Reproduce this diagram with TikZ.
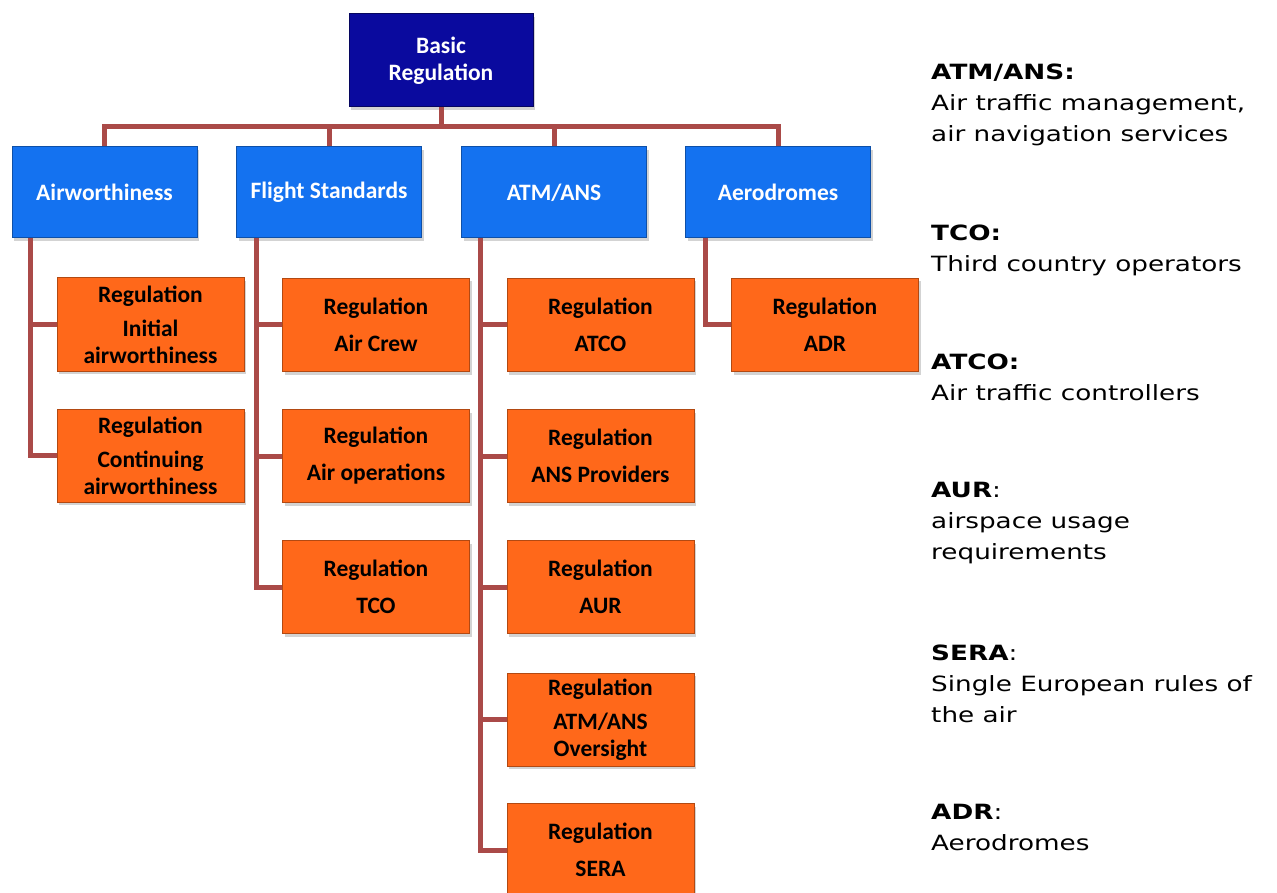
\documentclass[tikz,border=0pt]{standalone}
\usepackage{fontspec}
\setmainfont{Carlito}
\newfontfamily\legendfont[FakeStretch=1.25]{DejaVu Sans}
\usetikzlibrary{shadows}
\definecolor{topblue}{RGB}{10,10,158}
\definecolor{areablue}{RGB}{20,114,240}
\definecolor{regorange}{RGB}{255,104,26}
\definecolor{linkred}{RGB}{170,74,72}
\begin{document}
\begin{tikzpicture}[x=1pt,y=-1pt,
  box/.style={draw, line width=1pt, inner sep=0pt, align=center,
    font=\fontsize{23.5}{27}\selectfont\bfseries,
    drop shadow={opacity=0.35,shadow xshift=2pt,shadow yshift=-3pt}},
  topbox/.style={box, draw=topblue!60!black, fill=topblue, text=white,
    minimum width=184pt, minimum height=93pt},
  areabox/.style={box, draw=areablue!70!black, fill=areablue, text=white,
    minimum width=185pt, minimum height=91pt},
  regbox/.style={box, draw=regorange!70!black, fill=regorange, text=black,
    minimum width=187pt, minimum height=93pt},
  link/.style={draw=linkred, line width=5pt},
  legend/.style={anchor=north west, inner sep=0pt, align=left,
    font=\legendfont\fontsize{21}{31}\selectfont}]
\useasboundingbox (0,0) rectangle (1277,893);

% connectors first, boxes on top
\node[topbox] (basic) at (441,60.5) {Basic\\Regulation};

\node[areabox] (air) at (104.5,192.5) {Airworthiness};
\node[areabox] (fs) at (329,192.5) {Flight Standards};
\node[areabox] (atm) at (554,192.5) {ATM/ANS};
\node[areabox] (aero) at (778,192.5) {Aerodromes};

\path[link] (basic.south) -- ++(0,19) coordinate (bus) -| (air.north);
\path[link] (bus) -| (fs.north);
\path[link] (bus) -| (atm.north);
\path[link] (bus) -| (aero.north);

\node[regbox] (ini) at (150.5,324.5) {Regulation\\[7pt]Initial\\airworthiness};
\node[regbox] (cont) at (150.5,455.5) {Regulation\\[7pt]Continuing\\airworthiness};

\node[regbox] (crew) at (376,325) {Regulation\\[10pt]Air Crew};
\node[regbox] (ops) at (376,456) {Regulation\\[10pt]Air operations};
\node[regbox] (tco) at (376,587) {Regulation\\[10pt]TCO};

\node[regbox] (atco) at (600.5,325) {Regulation\\[10pt]ATCO};
\node[regbox] (ansp) at (600.5,456) {Regulation\\[10pt]ANS Providers};
\node[regbox] (aur) at (600.5,587) {Regulation\\[10pt]AUR};
\node[regbox] (ovs) at (600.5,719.5) {Regulation\\[7pt]ATM/ANS\\Oversight};
\node[regbox] (sera) at (600.5,850) {Regulation\\[10pt]SERA};

\node[regbox] (adr) at (825,325) {Regulation\\[10pt]ADR};

\path[link] ([xshift=19pt]air.south west) |- (ini.west);
\path[link] ([xshift=19pt]air.south west) |- (cont.west);

\path[link] ([xshift=20pt]fs.south west) |- (crew.west);
\path[link] ([xshift=20pt]fs.south west) |- (ops.west);
\path[link] ([xshift=20pt]fs.south west) |- (tco.west);

\path[link] ([xshift=19pt]atm.south west) |- (atco.west);
\path[link] ([xshift=19pt]atm.south west) |- (ansp.west);
\path[link] ([xshift=19pt]atm.south west) |- (aur.west);
\path[link] ([xshift=19pt]atm.south west) |- (ovs.west);
\path[link] ([xshift=19pt]atm.south west) |- (sera.west);

\path[link] ([xshift=20pt]aero.south west) |- (adr.west);

% legend
\node[legend] (l1) at (931,64) {\textbf{ATM/ANS:}\\Air traffic management,\\air navigation services};
\node[legend] (l2) at (931,225) {\textbf{TCO:}\\Third country operators};
\node[legend] (l3) at (931,354) {\textbf{ATCO:}\\Air traffic controllers};
\node[legend] (l4) at (931,482) {\textbf{AUR}:\\airspace usage\\requirements};
\node[legend] (l5) at (931,645) {\textbf{SERA}:\\Single European rules of\\the air};
\node[legend] (l6) at (931,804) {\textbf{ADR}:\\Aerodromes};
\end{tikzpicture}
\end{document}
